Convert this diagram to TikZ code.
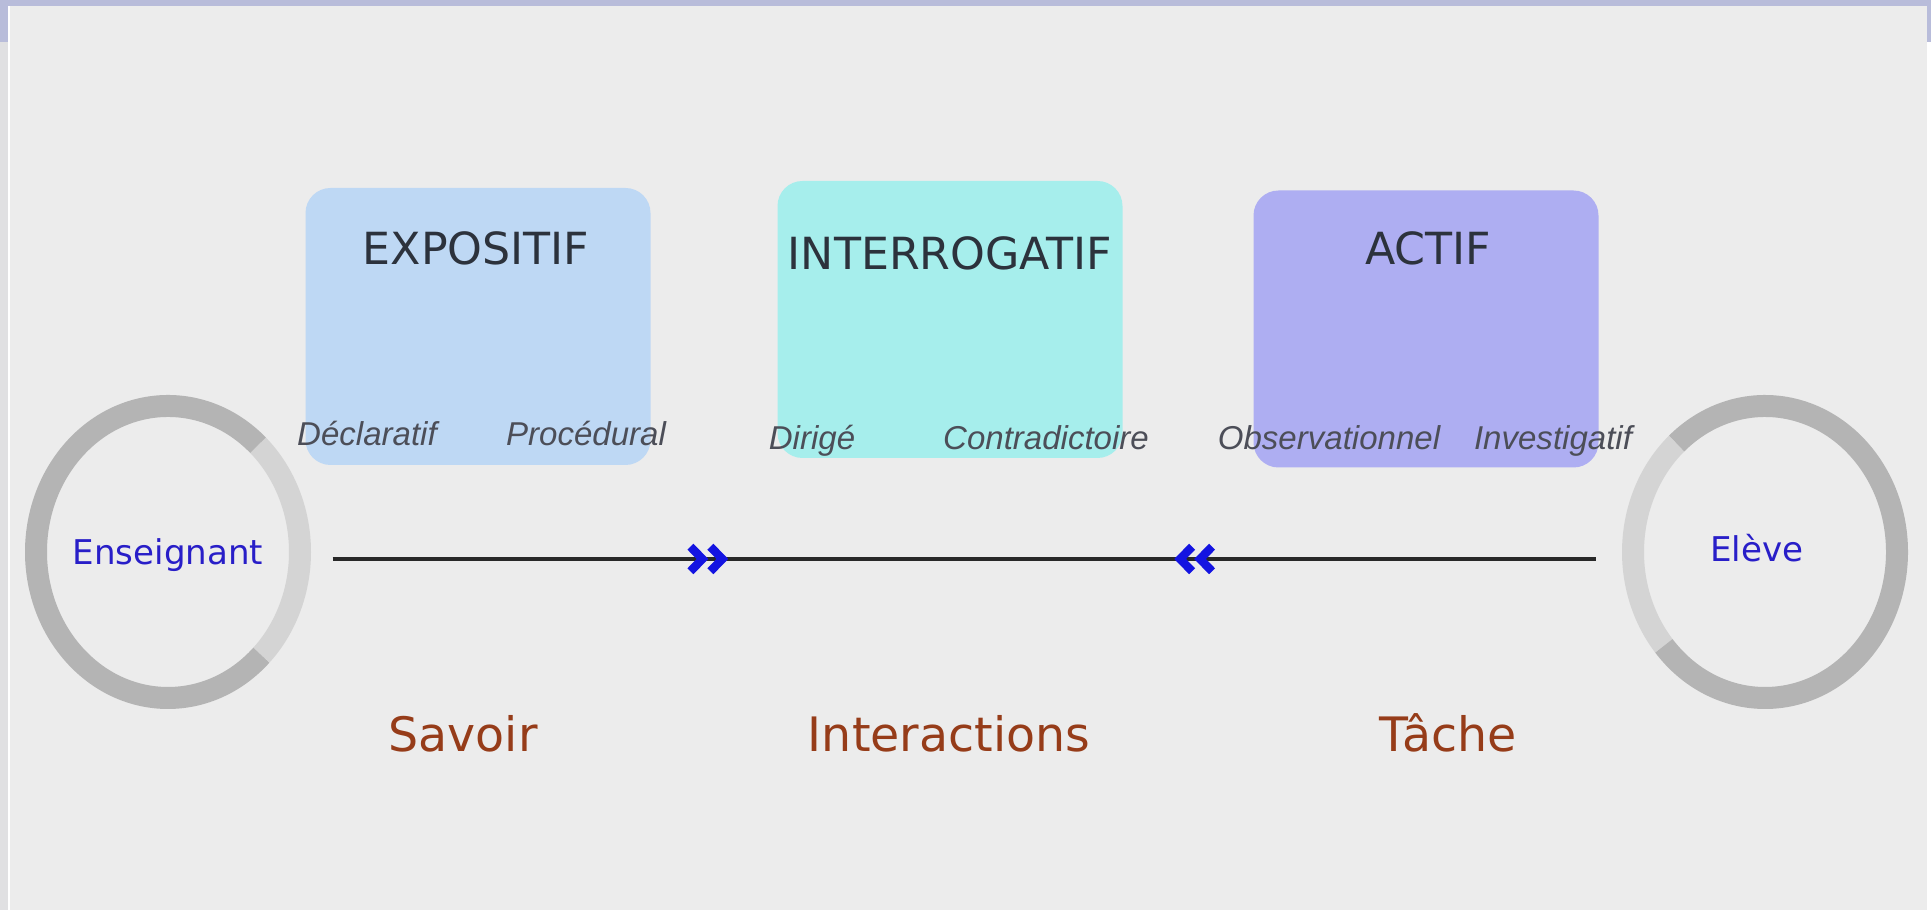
\documentclass[tikz,border=0pt]{standalone}
\usepackage{fontspec}
\setmainfont{DejaVu Sans}
\newfontfamily\sublabelfont{Liberation Sans}
\usetikzlibrary{arrows.meta, decorations.markings, shapes.geometric}

\definecolor{pagebg}{RGB}{236,236,236}
\definecolor{bandlav}{RGB}{184,188,218}
\definecolor{stripgray}{RGB}{224,224,226}
\definecolor{expobox}{RGB}{190,216,244}
\definecolor{interbox}{RGB}{166,238,236}
\definecolor{actbox}{RGB}{174,174,242}
\definecolor{titlegray}{RGB}{44,50,60}
\definecolor{subgray}{RGB}{76,78,88}
\definecolor{ringdark}{RGB}{180,180,180}
\definecolor{ringlight}{RGB}{212,212,212}
\definecolor{actorblue}{RGB}{40,30,200}
\definecolor{axisbrown}{RGB}{150,60,25}
\definecolor{chevblue}{RGB}{20,20,225}
\definecolor{axisline}{RGB}{40,40,40}

\begin{document}
\begin{tikzpicture}[
    mode/.style={rounded corners=0.25cm, minimum width=3.45cm, minimum height=2.77cm, inner sep=0pt},
    modetitle/.style={anchor=base, text=titlegray, font=\fontsize{12.6}{15}\selectfont},
    sublabel/.style={anchor=base, text=subgray, font=\sublabelfont\itshape\fontsize{9.4}{11}\selectfont},
    actor/.style={ellipse, minimum width=2.86cm, minimum height=3.14cm, inner sep=0pt},
    actorname/.style={anchor=base, text=actorblue, font=\fontsize{9.7}{12}\selectfont},
    axisname/.style={anchor=base, text=axisbrown, font=\fontsize{13.5}{16}\selectfont},
    ringpart/.style={line width=0.22cm},
    axis/.style={axisline, line width=1.15pt, postaction={decorate},
        decoration={markings,
            mark=at position 0.313 with {\arrow[chevblue]{Straight Barb[length=3.4pt, width=7pt, line width=2.4pt, sep=-0.6pt] Straight Barb[length=3.4pt, width=7pt, line width=2.4pt]}},
            mark=at position 0.666 with {\arrowreversed[chevblue]{Straight Barb[length=3.4pt, width=7pt, line width=2.4pt, sep=-0.6pt] Straight Barb[length=3.4pt, width=7pt, line width=2.4pt]}}}},
]

% === Page background ===
\useasboundingbox (0,0) rectangle (19.31,9.10);
\fill[pagebg] (0,0) rectangle (19.31,9.10);
\fill[stripgray] (0,0) rectangle (0.08,8.68);
\fill[bandlav] (0,8.68) rectangle (0.08,9.10);
\fill[white] (0.08,0) rectangle (0.10,9.04);
\fill[white] (19.27,0) rectangle (19.31,8.68);
\fill[bandlav] (19.27,8.68) rectangle (19.31,9.10);
\fill[bandlav] (0,9.04) rectangle (19.31,9.10);

% === Teaching modes ===
\node[mode, fill=expobox] (expo) at (4.78,5.835) {};
\node[mode, fill=interbox] (inter) at (9.50,5.905) {};
\node[mode, fill=actbox] (actif) at (14.26,5.81) {};

\node[modetitle] (expot) at (4.76,6.45) {EXPOSITIF};
\node[modetitle] (intert) at (9.50,6.40) {INTERROGATIF};
\node[modetitle] (actift) at (14.28,6.45) {ACTIF};

% Sub-categories
\node[sublabel] (decl) at (3.67,4.64) {Déclaratif};
\node[sublabel] (proc) at (5.86,4.64) {Procédural};
\node[sublabel] (dirige) at (8.12,4.60) {Dirigé};
\node[sublabel] (contra) at (10.46,4.60) {Contradictoire};
\node[sublabel] (obs) at (13.29,4.60) {Observationnel};
\node[sublabel] (invest) at (15.53,4.60) {Investigatif};

% === Actors ===
\node[actor] (ens) at (1.68,3.58) {};
\node[actor] (eleve) at (17.65,3.58) {};

% Rings
\draw[ringpart, ringlight] ([shift={(-45:1.32 and 1.46)}]ens.center)
    arc[start angle=-45, end angle=47, x radius=1.32cm, y radius=1.46cm];
\draw[ringpart, ringdark] ([shift={(47:1.32 and 1.46)}]ens.center)
    arc[start angle=47, end angle=315, x radius=1.32cm, y radius=1.46cm];
\draw[ringpart, ringlight] ([shift={(132:1.32 and 1.46)}]eleve.center)
    arc[start angle=132, end angle=220, x radius=1.32cm, y radius=1.46cm];
\draw[ringpart, ringdark] ([shift={(220:1.32 and 1.46)}]eleve.center)
    arc[start angle=220, end angle=492, x radius=1.32cm, y radius=1.46cm];

\node[actorname] (enst) at (1.68,3.45) {Enseignant};
\node[actorname] (elevet) at (17.57,3.48) {Elève};

% Axis between teacher and pupil
\draw[axis] ([xshift=0.21cm, yshift=-0.07cm]ens.east) -- ([xshift=-0.25cm, yshift=-0.07cm]eleve.west);

% === Poles ===
\node[axisname] (savoir) at (4.63,1.58) {Savoir};
\node[axisname] (interact) at (9.49,1.58) {Interactions};
\node[axisname] (tache) at (14.48,1.58) {Tâche};

\end{tikzpicture}
\end{document}
